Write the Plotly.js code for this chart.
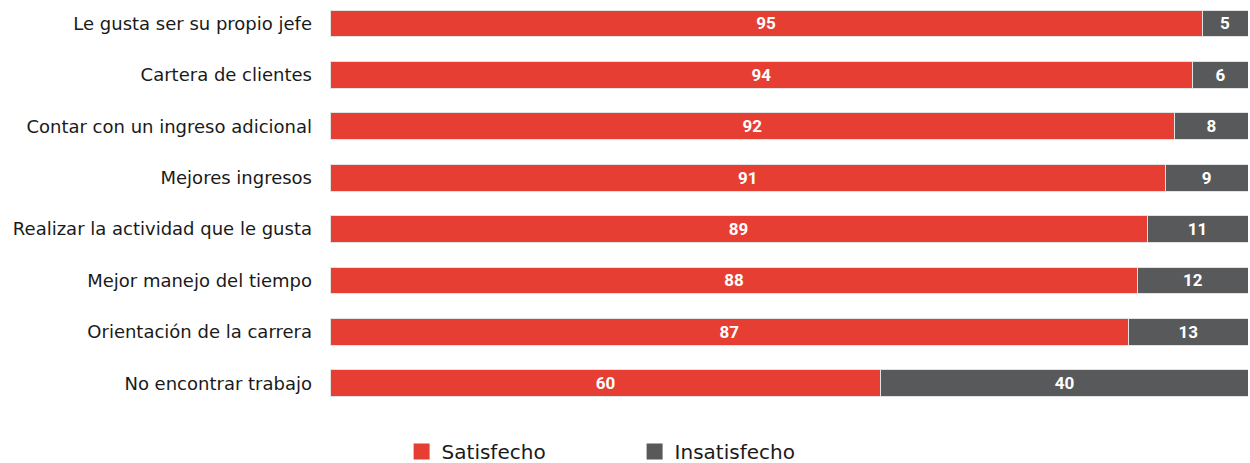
<!DOCTYPE html>
<html>
<head>
<meta charset="utf-8">
<script src="https://cdn.plot.ly/plotly-3.0.1.min.js"></script>
<style>html,body{margin:0;padding:0;background:#fff;}#chart{width:1250px;height:463px;}</style>
</head>
<body>
<div id="chart"></div>
<script>
const categories = [
  "Le gusta ser su propio jefe",
  "Cartera de clientes",
  "Contar con un ingreso adicional",
  "Mejores ingresos",
  "Realizar la actividad que le gusta",
  "Mejor manejo del tiempo",
  "Orientación de la carrera",
  "No encontrar trabajo"
];
const satisfecho = [95, 94, 92, 91, 89, 88, 87, 60];
const insatisfecho = [5, 6, 8, 9, 11, 12, 13, 40];

const common = {
  type: 'bar',
  orientation: 'h',
  y: categories,
  textposition: 'inside',
  insidetextanchor: 'middle',
  textangle: 0,
  textfont: {family: 'Roboto, sans-serif', size: 17, color: '#ffffff', weight: 'bold'},
  hoverinfo: 'x+y'
};

const traces = [
  Object.assign({}, common, {
    name: 'Satisfecho',
    x: satisfecho,
    text: satisfecho.map(String),
    marker: {color: '#E63E32', line: {color: '#e2e2e2', width: 1}}
  }),
  Object.assign({}, common, {
    name: 'Insatisfecho',
    x: insatisfecho,
    text: insatisfecho.map(String),
    marker: {color: '#58595B', line: {color: '#e2e2e2', width: 1}}
  })
];

const layout = {
  width: 1250,
  height: 463,
  barmode: 'stack',
  bargap: 0.475,
  margin: {l: 330, r: 2, t: 0, b: 54, autoexpand: false},
  paper_bgcolor: '#ffffff',
  plot_bgcolor: '#ffffff',
  font: {family: '"DejaVu Sans", sans-serif', color: '#1a1a1a'},
  xaxis: {range: [0, 100], showgrid: false, zeroline: false, showticklabels: false, showline: false, ticks: ''},
  yaxis: {
    type: 'category',
    range: [7.5, -0.457],
    showgrid: false, zeroline: false, showline: false, ticks: '',
    ticklabelstandoff: 17,
    tickfont: {family: '"DejaVu Sans", sans-serif', size: 18, color: '#1a1a1a'}
  },
  showlegend: true,
  legend: {
    orientation: 'h',
    x: 0.078, xanchor: 'left',
    y: -0.104, yanchor: 'middle',
    entrywidth: 188,
    font: {family: '"DejaVu Sans", sans-serif', size: 20, color: '#1a1a1a'},
    traceorder: 'normal'
  }
};

Plotly.newPlot('chart', traces, layout, {displayModeBar: false, staticPlot: true}).then(function (gd) {
  gd.querySelectorAll('.legend .legendpoints path').forEach(function (p) {
    p.setAttribute('d', 'M8,8H-8V-8H8Z');
    p.style.strokeWidth = '0px';
  });
});
</script>
</body>
</html>
